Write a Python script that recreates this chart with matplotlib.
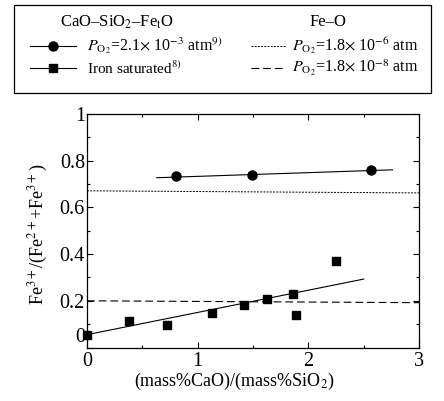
import matplotlib
matplotlib.use("Agg")
import matplotlib.pyplot as plt
from matplotlib.lines import Line2D
from matplotlib.patches import Rectangle
from matplotlib.ticker import MultipleLocator, FixedLocator
import numpy as np

plt.rcParams['font.family'] = ['Liberation Serif', 'DejaVu Serif']
plt.rcParams['mathtext.fontset'] = 'stix'

# Data: CaO-SiO2-FetO, PO2 = 2.1e-3 atm
circ_x = [0.80, 1.49, 2.57]
circ_y = [0.734, 0.739, 0.760]
circ_fit_x = [0.63, 2.76]
circ_fit_y = [0.727, 0.761]

# Iron saturated
sq_x = [0.0, 0.38, 0.72, 1.13, 1.42, 1.63, 1.86, 1.89, 2.25]
sq_y = [0.054, 0.113, 0.096, 0.149, 0.183, 0.208, 0.228, 0.139, 0.372]
sq_fit_x = [0.0, 2.5]
sq_fit_y = [0.055, 0.293]

# Fe-O reference lines
feo_x = [0.0, 3.0]
feo_6_y = [0.671, 0.662]
feo_8_y = [0.200, 0.192]

x_ticks = [0, 1, 2, 3]
y_ticks = [0, 0.2, 0.4, 0.6, 0.8, 1.0]
y_ticklabels = ['0', '0.2', '0.4', '0.6', '0.8', '1']

W, H = 444, 401
fig = plt.figure(figsize=(W/100, H/100), dpi=100)

ax = fig.add_axes([87/W, 1-347.5/H, (419-87)/W, (347.5-114)/H])
ax.plot(circ_fit_x, circ_fit_y, color='black', lw=0.8)
ax.plot(circ_x, circ_y, 'o', color='black', ms=6.5, ls='none')
ax.plot(sq_fit_x, sq_fit_y, color='black', lw=0.8)
ax.plot(sq_x, sq_y, 's', color='black', ms=6, ls='none', clip_on=False)
ax.plot(feo_x, feo_6_y, color='black', lw=0.7, ls=(0, (2, 1.3)))
ax.plot(feo_x, feo_8_y, color='black', lw=0.8, ls=(0, (7, 3.5)))

ax.set_xlim(0, 3)
ax.set_ylim(0, 1)
ax.xaxis.set_major_locator(FixedLocator(x_ticks))
ax.xaxis.set_minor_locator(MultipleLocator(0.5))
ax.yaxis.set_major_locator(FixedLocator(y_ticks))
ax.set_yticklabels(y_ticklabels)
ax.yaxis.set_minor_locator(MultipleLocator(0.1))
ax.tick_params(which='both', direction='in', top=True, right=True, labelsize=14.5, width=0.8)
ax.tick_params(which='major', length=4)
ax.tick_params(axis='y', which='major', pad=1.5)
ax.tick_params(axis='x', which='major', pad=3.5)
ax.tick_params(which='minor', length=2)
for s in ax.spines.values():
    s.set_linewidth(0.9)
ax.get_yticklabels()[0].set_va('bottom')
ax.set_xlabel('(mass%CaO)/(mass%SiO$_2$)', fontsize=13)
ax.set_ylabel('Fe$^{3+}$/(Fe$^{2+}$+Fe$^{3+}$)', fontsize=13)
ax.xaxis.set_label_coords(0.444, -0.10)
ax.yaxis.set_label_coords(-0.11, 0.486)

# Legend drawn in pixel coordinates
lax = fig.add_axes([0, 0, 1, 1], facecolor='none')
lax.set_xlim(0, W)
lax.set_ylim(H, 0)
lax.axis('off')
lax.add_patch(Rectangle((14, 5), 417, 88, fill=False, lw=0.9, ec='black'))
lax.text(117, 22, 'CaO–SiO$_2$–Fe$_\\mathrm{t}$O', ha='center', va='center', fontsize=12)
lax.text(328, 22, 'Fe–O', ha='center', va='center', fontsize=12)
r1, r2 = 46, 68
lax.add_line(Line2D([30, 76], [r1, r1], color='black', lw=0.8))
lax.add_line(Line2D([53], [r1], marker='o', color='black', ms=6.5, ls='none'))
lax.text(87, r1, '$P_{\\mathrm{O_2}}$=2.1$\\times$ 10$^{-3}$ atm$^{9)}$', ha='left', va='center', fontsize=11.5)
lax.add_line(Line2D([30, 76], [r2, r2], color='black', lw=0.8))
lax.add_line(Line2D([53], [r2], marker='s', color='black', ms=6, ls='none'))
lax.text(87, r2, 'Iron saturated$^{8)}$', ha='left', va='center', fontsize=11)
lax.add_line(Line2D([251, 285], [r1, r1], color='black', lw=0.7, ls=(0, (2, 1.3))))
lax.text(292, r1, '$P_{\\mathrm{O_2}}$=1.8$\\times$ 10$^{-6}$ atm', ha='left', va='center', fontsize=11.5)
lax.add_line(Line2D([251, 285], [r2, r2], color='black', lw=0.8, ls=(0, (7, 3.5))))
lax.text(292, r2, '$P_{\\mathrm{O_2}}$=1.8$\\times$ 10$^{-8}$ atm', ha='left', va='center', fontsize=11.5)

fig.savefig('out.png', dpi=100)
